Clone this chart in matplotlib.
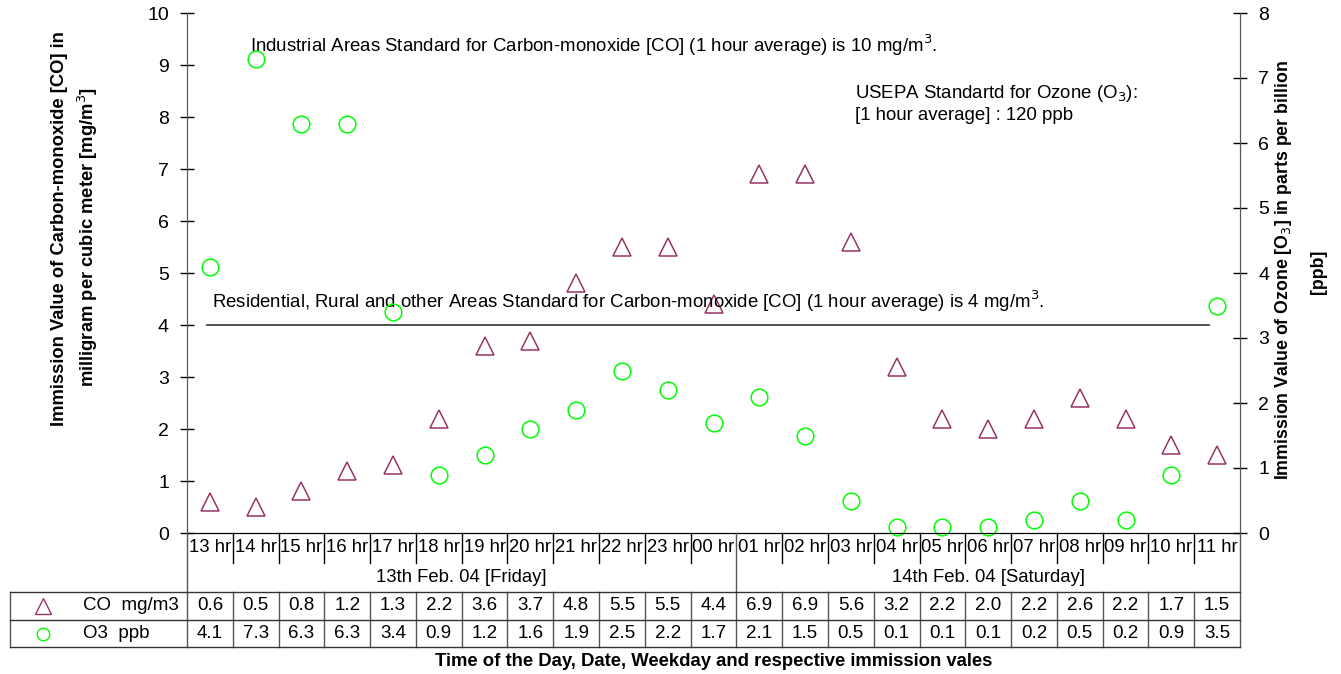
import matplotlib
matplotlib.use("Agg")
import matplotlib.pyplot as plt
from matplotlib.lines import Line2D
from matplotlib.transforms import blended_transform_factory

plt.rcParams['font.family'] = ['Liberation Sans', 'DejaVu Sans']

# Hourly readings, 13th Feb 13:00 to 14th Feb 11:00
hours = ["13 hr", "14 hr", "15 hr", "16 hr", "17 hr", "18 hr", "19 hr", "20 hr",
         "21 hr", "22 hr", "23 hr", "00 hr", "01 hr", "02 hr", "03 hr", "04 hr",
         "05 hr", "06 hr", "07 hr", "08 hr", "09 hr", "10 hr", "11 hr"]
days = ["13th Feb. 04 [Friday]", "14th Feb. 04 [Saturday]"]
day_lengths = [12, 11]
co_mg_m3 = [0.6, 0.5, 0.8, 1.2, 1.3, 2.2, 3.6, 3.7, 4.8, 5.5, 5.5, 4.4,
            6.9, 6.9, 5.6, 3.2, 2.2, 2.0, 2.2, 2.6, 2.2, 1.7, 1.5]
o3_ppb = [4.1, 7.3, 6.3, 6.3, 3.4, 0.9, 1.2, 1.6, 1.9, 2.5, 2.2, 1.7,
          2.1, 1.5, 0.5, 0.1, 0.1, 0.1, 0.2, 0.5, 0.2, 0.9, 3.5]
series_names = ["CO  mg/m3", "O3  ppb"]
residential_co_standard = 4

W, H = 1341, 674
CO_COLOR = "#993366"
O3_COLOR = "#00ff00"
GRID = "#555555"
FS = 13
ANN = 13.4
TITLE_FS = 13.2

def fy(py):
    return 1 - py / H

def fx(px):
    return px / W

fig = plt.figure(figsize=(W / 100, H / 100), dpi=100)
left, right, top, bottom = 187, 1240, 13, 533
ax = fig.add_axes([fx(left), fy(bottom), fx(right - left), fy(top) - fy(bottom)])
ax2 = ax.twinx()

n = len(hours)
xs = [i + 0.5 for i in range(n)]

ax.plot(xs, co_mg_m3, linestyle="none", marker="^", markersize=13.5,
        markerfacecolor="none", markeredgecolor=CO_COLOR, markeredgewidth=1.1,
        clip_on=False)
ax2.plot(xs, o3_ppb, linestyle="none", marker="o", markersize=12,
         markerfacecolor="none", markeredgecolor=O3_COLOR, markeredgewidth=1.1,
         clip_on=False)

ax.set_xlim(0, n)
ax.set_ylim(0, 10)
ax2.set_ylim(0, 8)
ax.set_xticks([])
ax.set_yticks(range(0, 11))
ax2.set_yticks(range(0, 9))

for a in (ax, ax2):
    a.spines["top"].set_visible(False)
    a.spines["left"].set_color(GRID)
    a.spines["right"].set_color(GRID)
    a.spines["bottom"].set_color("black")
    a.tick_params(axis="y", direction="inout", length=10, width=1,
                  color="black", labelsize=FS + 1, pad=8)
ax.set_facecolor("none")

# Axis titles
fig.text(fx(60), fy(229), "Immission Value of Carbon-monoxide [CO] in",
         rotation=90, ha="center", va="center", fontsize=TITLE_FS, fontweight="bold")
fig.text(fx(88), fy(237), "milligram per cubic meter [mg/m$^3$]",
         rotation=90, ha="center", va="center", fontsize=TITLE_FS, fontweight="bold")
fig.text(fx(1283), fy(270), "Immission Value of Ozone [O$_3$] in parts per billion",
         rotation=90, ha="center", va="center", fontsize=TITLE_FS - 0.4, fontweight="bold")
fig.text(fx(1318), fy(272), "[ppb]",
         rotation=90, ha="center", va="center", fontsize=TITLE_FS - 0.4, fontweight="bold")

# Standards and annotations
ax.plot([0.437, 22.32], [residential_co_standard] * 2, color="#333333", lw=1.2)
ax.text(0.546, 4.45,
        "Residential, Rural and other Areas Standard for Carbon-monoxide [CO] (1 hour average) is 4 mg/m$^3$.",
        fontsize=ANN, va="center", ha="left")
ax.text(1.376, 9.38,
        "Industrial Areas Standard for Carbon-monoxide [CO] (1 hour average) is 10 mg/m$^3$.",
        fontsize=ANN, va="center", ha="left")
ax.text(14.59, 8.46, "USEPA Standartd for Ozone (O$_3$):", fontsize=ANN, va="center", ha="left")
ax.text(14.59, 8.02, "[1 hour average] : 120 ppb", fontsize=ANN, va="center", ha="left")

# Category table below the plot
tr = blended_transform_factory(ax.transData, fig.transFigure)

def vline(x, y0, y1, color=GRID, lw=1.0):
    fig.add_artist(Line2D([x, x], [fy(y0), fy(y1)], transform=tr, color=color, lw=lw))

def hline_px(x0, x1, y, color="#333333", lw=1.0):
    fig.add_artist(Line2D([fx(x0), fx(x1)], [fy(y), fy(y)], transform=fig.transFigure,
                          color=color, lw=lw))

row_hour, row_day = 548, 577
row_top, row_mid, row_bot = 592, 620, 647

for i, h in enumerate(hours):
    fig.text(xs[i], fy(row_hour), h, transform=tr, ha="center", va="center", fontsize=FS + 0.3)

start = 0
for d, length in zip(days, day_lengths):
    fig.text(start + length / 2, fy(row_day), d, transform=tr, ha="center", va="center",
             fontsize=FS + 0.3)
    start += length

boundaries = set()
acc = 0
for length in day_lengths[:-1]:
    acc += length
    boundaries.add(acc)

for i in range(1, n):
    if i in boundaries:
        vline(i, bottom, row_top)
    else:
        vline(i, bottom, 563, color="black")
    vline(i, row_top, row_bot)
vline(0, bottom, row_bot)
vline(n, bottom, row_bot)
fig.add_artist(Line2D([fx(10), fx(10)], [fy(row_top), fy(row_bot)],
                      transform=fig.transFigure, color=GRID, lw=1.0))
for y in (row_top, row_mid, row_bot):
    hline_px(10, right, y)

rows = [co_mg_m3, o3_ppb]
row_centers = [(row_top + row_mid) / 2, (row_mid + row_bot) / 2]
markers = [("^", CO_COLOR, 11), ("o", O3_COLOR, 9)]
for vals, yc, name, (mk, col, ms) in zip(rows, row_centers, series_names, markers):
    for i, v in enumerate(vals):
        fig.text(xs[i], fy(yc), f"{v:.1f}", transform=tr, ha="center", va="center",
                 fontsize=FS + 0.5)
    fig.add_artist(Line2D([fx(43)], [fy(yc)], transform=fig.transFigure, marker=mk,
                          markersize=ms, markerfacecolor="none", markeredgecolor=col,
                          markeredgewidth=1.0, linestyle="none"))
    fig.text(fx(83), fy(yc), name, ha="left", va="center", fontsize=FS + 0.5)

fig.text(fx(714), fy(662), "Time of the Day, Date, Weekday and respective immission vales",
         ha="center", va="center", fontsize=13.3, fontweight="bold")

fig.savefig("out.png", dpi=100)
